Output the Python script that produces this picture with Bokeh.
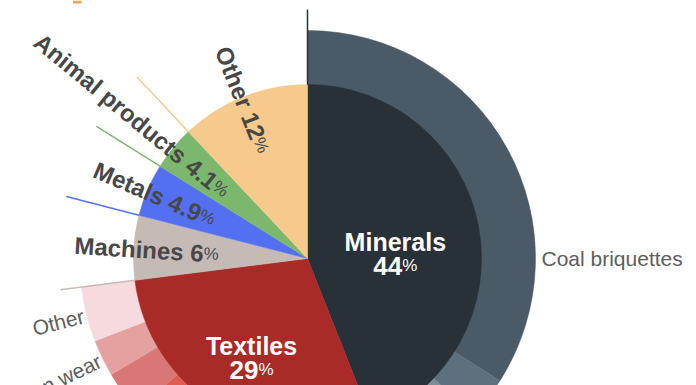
import numpy as np
from bokeh.plotting import figure
from bokeh.models import Range1d, ColumnDataSource
from bokeh.embed import file_html
from bokeh.resources import INLINE
from bokeh.core.properties import value

# ---------------- data ----------------
categories = ["Minerals", "Textiles", "Machines", "Metals", "Animal products", "Other"]
shares = [44, 29, 6, 4.9, 4.1, 12]
share_labels = ["44", "29", "6", "4.9", "4.1", "12"]
cat_colors = ["#283038", "#a82b27", "#c6bab6", "#5470f2", "#7bb86e", "#f6ca8c"]

mineral_sub = ["Coal briquettes", "Iron ore", "Anthracite", "Other minerals"]
mineral_sub_shares = [34.0, 3.1, 4.0, 2.9]
mineral_sub_colors = ["#4a5a66", "#5e707d", "#7d8e99", "#9aabb4"]

textile_sub = ["Coats", "Suits", "Knitwear", "Women wear", "Other"]
textile_sub_shares = [10.5, 8.9, 3.1, 2.6, 3.9]
textile_sub_colors = ["#c23a33", "#e05b50", "#d97676", "#e5a0a0", "#f7dadd"]

# ---------------- layout ----------------
W, H = 696, 385
CX, CY = 307, H - 258
R_IN, R_OUT, R_LINE = 174, 228, 249
FONT = "Liberation Sans"


def pol(r, th):
    t = np.radians(th)
    return CX + r * np.sin(t), CY + r * np.cos(t)


def radial_angle(th):
    t = np.radians(th)
    return float(np.arctan2(-np.cos(t), -np.sin(t)))


def up_vec(th):
    t = np.radians(th)
    return np.cos(t), -np.sin(t)


p = figure(width=W, height=H, output_backend="svg", toolbar_location=None,
           x_range=Range1d(0, W), y_range=Range1d(0, H),
           x_axis_location=None, y_axis_location=None,
           min_border=0, outline_line_color=None)
p.grid.visible = False
p.background_fill_color = "white"
p.border_fill_color = "white"

# inner category angles (clockwise from top, degrees)
cum = np.concatenate([[0], np.cumsum(shares)]) * 3.6
th0, th1 = cum[:-1], cum[1:]


def ring(sub_shares, colors, start_th):
    c = np.concatenate([[0], np.cumsum(sub_shares)]) * 3.6 + start_th
    a0 = np.radians(90 - c[1:])
    a1 = np.radians(90 - c[:-1])
    src = ColumnDataSource(dict(s=a0, e=a1, c=colors))
    p.annular_wedge(x=CX, y=CY, inner_radius=R_IN - 1, outer_radius=R_OUT,
                    start_angle="s", end_angle="e", fill_color="c",
                    line_color="c", line_width=0.5, source=src)
    return c


mc = ring(mineral_sub_shares, mineral_sub_colors, th0[0])
tc = ring(textile_sub_shares, textile_sub_colors, th0[1])

# inner pie
src_in = ColumnDataSource(dict(s=np.radians(90 - th1), e=np.radians(90 - th0), c=cat_colors))
p.wedge(x=CX, y=CY, radius=R_IN, start_angle="s", end_angle="e",
        fill_color="c", line_color="c", line_width=0.5, source=src_in)

# leader lines at the start of each category
x0s, y0s = pol(R_IN, th0)
x1s, y1s = pol(R_LINE, th0)
p.segment(x0=x0s, y0=y0s, x1=x1s, y1=y1s, line_color=cat_colors, line_width=1.5)

# title fragment
p.quad(left=72.5, right=81, bottom=H - 3, top=H, fill_color="#f4a259", line_color=None)

# ---------------- labels ----------------
inner_pos = {"Minerals": (88, 86.4), "Textiles": (113, 209.7)}
for name, (r, th) in inner_pos.items():
    i = categories.index(name)
    cx, cy = pol(r, th)
    p.text(x=[cx], y=[cy + 11], text=[name], text_font=value(FONT), text_font_style="bold",
           text_font_size="25px", text_color="white", text_align="center",
           text_baseline="alphabetic")
    num = share_labels[i]
    w_num = 0.556 * 26 * len(num)
    w_pct = 0.889 * 17
    xj = cx + (w_num - w_pct) / 2
    p.text(x=[xj], y=[cy - 13], text=[num], text_font=value(FONT), text_font_style="bold",
           text_font_size="26px", text_color="white", text_align="right",
           text_baseline="alphabetic")
    p.text(x=[xj], y=[cy - 13], text=["%"], text_font=value(FONT),
           text_font_size="17px", text_color="white", text_align="left",
           text_baseline="alphabetic")

junction_r = {"Machines": 104, "Metals": 116, "Animal products": 119, "Other": 130}
for name, rj in junction_r.items():
    i = categories.index(name)
    th = (th0[i] + th1[i]) / 2
    a = radial_angle(th)
    ux, uy = up_vec(th)
    bx, by = pol(rj, th)
    off = -1.5
    bx, by = bx + off * ux, by + off * uy
    p.text(x=[bx], y=[by], text=[f"{name} {share_labels[i]}"], angle=a,
           text_font=value(FONT), text_font_style="bold", text_font_size="24px",
           text_color="#474747", text_align="right", text_baseline="alphabetic")
    p.text(x=[bx], y=[by], text=["%"], angle=a,
           text_font=value(FONT), text_font_size="17px",
           text_color="#474747", text_align="left", text_baseline="alphabetic")

# outer ring labels
cx_, cy_ = pol(R_OUT + 6, 90)
p.text(x=[cx_], y=[cy_], text=[mineral_sub[0]], text_font=value(FONT),
       text_font_size="21px", text_color="#5e5e5e", text_align="left",
       text_baseline="middle")

for j in [3, 4]:
    th = (tc[j] + tc[j + 1]) / 2
    a = radial_angle(th)
    ux, uy = up_vec(th)
    bx, by = pol(R_OUT + 3, th)
    bx, by = bx - 0.5 * ux, by - 0.5 * uy
    p.text(x=[bx], y=[by], text=[textile_sub[j]], angle=a, text_font=value(FONT),
           text_font_size="21px", text_color="#5e5e5e", text_align="right",
           text_baseline="alphabetic")

open("out.html", "w").write(file_html(p, INLINE))
